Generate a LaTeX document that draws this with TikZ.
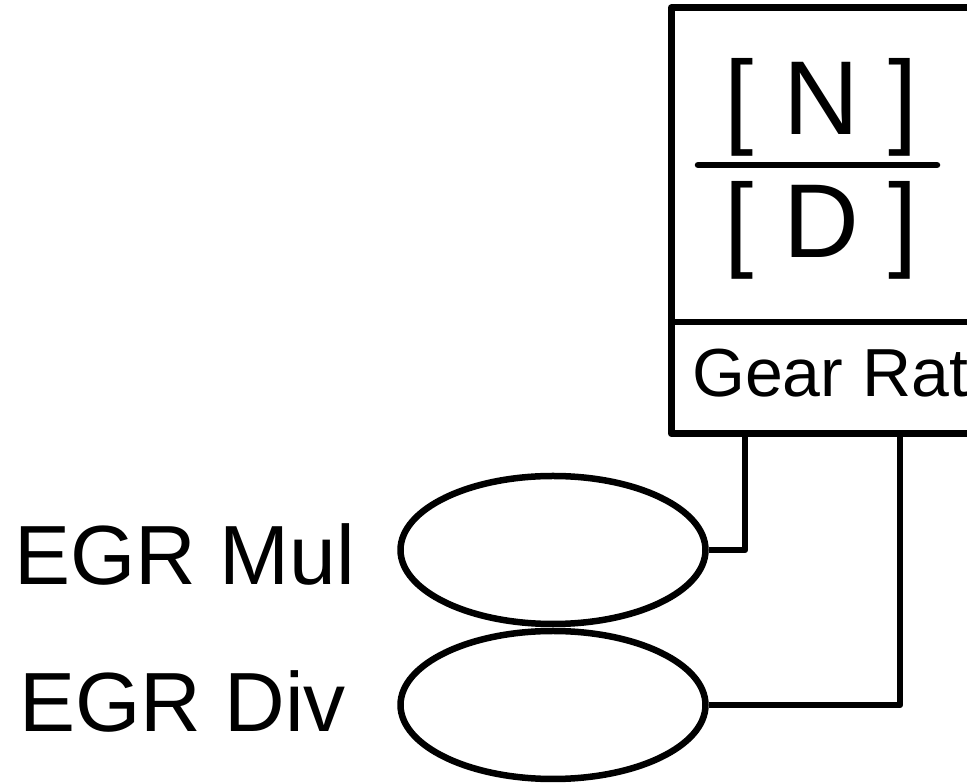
\documentclass[tikz,border=0pt]{standalone}
\usepackage{fontspec}
\setmainfont{Liberation Sans}
\usetikzlibrary{shapes.geometric, positioning}

\begin{document}
\begin{tikzpicture}[x=1pt,y=1pt,line width=6.5pt,line join=round,
  port/.style={draw,ellipse,minimum width=305pt,minimum height=148pt,inner sep=0pt},
  label/.style={font=\fontsize{84}{100}\selectfont,inner sep=0pt,anchor=base west},
  frac/.style={font=\fontsize{105}{120}\selectfont,inner sep=0pt,anchor=base}]
\useasboundingbox (0,0) rectangle (967,784);
\clip (0,0) rectangle (967,784);
% gear ratio block
\node[draw,rectangle,inner sep=0pt,minimum width=350pt,minimum height=426pt,anchor=south west] (ratio) at (668,347) {};
\draw (668,462) -- ++(350,0);
\node[frac] (num) at (821,649) {[ N ]};
\node[frac] (den) at (821,526) {[ D ]};
\draw[line cap=round] (698,619) -- (937,619);
\node[font=\fontsize{68}{80}\selectfont,inner sep=0pt,anchor=base west] (name) at (689,387) {Gear Rat};
% inputs
\node[port] (mul) at (553,234) {};
\node[port] (div) at (553,79) {};
\node[label] (mullbl) at (11,199) {EGR Mul};
\node[label] (divlbl) at (16,52) {EGR Div};
\coordinate (inA) at (745,347);
\coordinate (inB) at (900,347);
\draw (mul.east) -| (inA);
\draw (div.east) -| (inB);
\end{tikzpicture}
\end{document}
